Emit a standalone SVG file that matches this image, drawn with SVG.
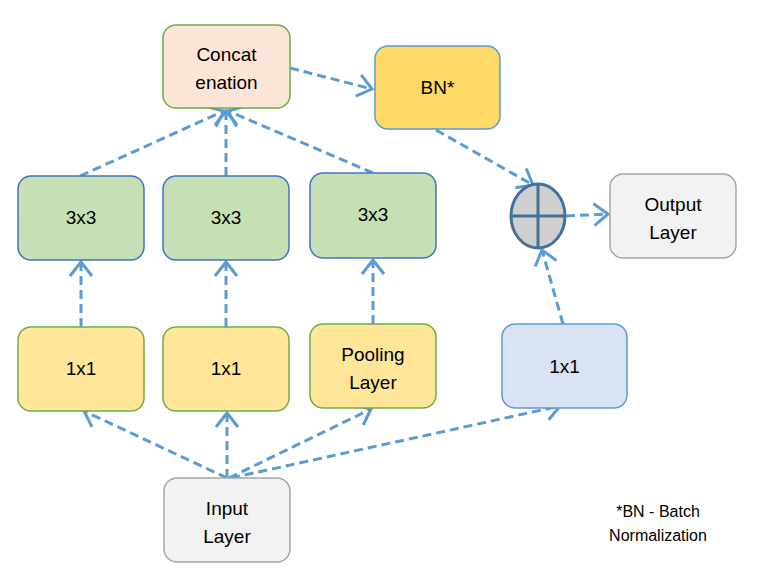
<svg xmlns="http://www.w3.org/2000/svg" width="763" height="586" viewBox="0 0 763 586">
<defs>
<style>
.t{font-family:"Liberation Sans","Open Sans",sans-serif;font-size:19px;fill:#000;text-anchor:middle}
.n{font-family:"Liberation Sans","Open Sans",sans-serif;font-size:16px;fill:#000;text-anchor:middle}
.c{fill:none;stroke:#5b9bd5;stroke-width:3;stroke-dasharray:9 5}
.box{stroke-width:1.5}
</style>
<marker id="ah" markerUnits="userSpaceOnUse" markerWidth="26" markerHeight="26" viewBox="0 0 26 26" refX="18" refY="13" orient="auto">
<path d="M4,2 L18,13 L4,24" fill="none" stroke="#5b9bd5" stroke-width="3"/>
</marker>
</defs>
<rect width="763" height="586" fill="#fff"/>
<g id="connectors">
<line class="c" x1="290" y1="68" x2="372" y2="89" marker-end="url(#ah)"/>
<line class="c" x1="436" y1="130" x2="533" y2="185" marker-end="url(#ah)"/>
<line class="c" x1="566" y1="216" x2="608" y2="214" marker-end="url(#ah)"/>
<line class="c" x1="563" y1="324" x2="542" y2="250" marker-end="url(#ah)"/>
<line class="c" x1="80" y1="176" x2="224" y2="111" marker-end="url(#ah)"/>
<line class="c" x1="226" y1="176" x2="226" y2="111" marker-end="url(#ah)"/>
<line class="c" x1="373" y1="173" x2="228" y2="111" marker-end="url(#ah)"/>
<line class="c" x1="81" y1="327" x2="81" y2="262" marker-end="url(#ah)"/>
<line class="c" x1="226" y1="327" x2="226" y2="262" marker-end="url(#ah)"/>
<line class="c" x1="373" y1="324" x2="373" y2="260" marker-end="url(#ah)"/>
<line class="c" x1="227" y1="478" x2="84" y2="411" marker-end="url(#ah)"/>
<line class="c" x1="227" y1="478" x2="227" y2="413" marker-end="url(#ah)"/>
<line class="c" x1="229" y1="478" x2="371" y2="409" marker-end="url(#ah)"/>
<line class="c" x1="231" y1="478" x2="560" y2="406" marker-end="url(#ah)"/>
</g>
<g id="concat">
<rect class="box" x="163" y="25" width="127" height="83" rx="13" fill="#fbe5d6" stroke="#70ad47"/>
<text class="t" x="226.5" y="61">Concat</text>
<text class="t" x="226.5" y="89">enation</text>
</g>
<g id="bn">
<rect class="box" x="375" y="46" width="125" height="83" rx="13" fill="#ffd966" stroke="#5b9bd5"/>
<text class="t" x="437.5" y="94">BN*</text>
</g>
<g id="conv3a">
<rect class="box" x="18" y="176" width="126" height="84" rx="13" fill="#c5e0b4" stroke="#4472c4"/>
<text class="t" x="81" y="224">3x3</text>
</g>
<g id="conv3b">
<rect class="box" x="163" y="176" width="126" height="84" rx="13" fill="#c5e0b4" stroke="#4472c4"/>
<text class="t" x="226" y="224">3x3</text>
</g>
<g id="conv3c">
<rect class="box" x="310" y="173" width="126" height="85" rx="13" fill="#c5e0b4" stroke="#4472c4"/>
<text class="t" x="373" y="221">3x3</text>
</g>
<g id="conv1a">
<rect class="box" x="18" y="327" width="126" height="84" rx="13" fill="#ffe699" stroke="#70ad47"/>
<text class="t" x="81" y="375">1x1</text>
</g>
<g id="conv1b">
<rect class="box" x="163" y="327" width="126" height="84" rx="13" fill="#ffe699" stroke="#70ad47"/>
<text class="t" x="226" y="375">1x1</text>
</g>
<g id="pool">
<rect class="box" x="310" y="324" width="126" height="84" rx="13" fill="#ffe699" stroke="#70ad47"/>
<text class="t" x="373" y="361">Pooling</text>
<text class="t" x="373" y="389">Layer</text>
</g>
<g id="conv1c">
<rect class="box" x="502" y="324" width="125" height="84" rx="13" fill="#dae3f3" stroke="#5b9bd5"/>
<text class="t" x="564.5" y="373">1x1</text>
</g>
<g id="input">
<rect class="box" x="164" y="478" width="126" height="84" rx="13" fill="#f2f2f2" stroke="#a6a6a6"/>
<text class="t" x="227" y="515">Input</text>
<text class="t" x="227" y="543">Layer</text>
</g>
<g id="output">
<rect class="box" x="610" y="174" width="126" height="84" rx="13" fill="#f2f2f2" stroke="#a6a6a6"/>
<text class="t" x="673" y="211">Output</text>
<text class="t" x="673" y="239">Layer</text>
</g>
<g id="add">
<ellipse cx="538" cy="216" rx="27" ry="32" fill="#d0cece" stroke="#41719c" stroke-width="3"/>
<line x1="538" y1="184" x2="538" y2="248" stroke="#41719c" stroke-width="3"/>
<line x1="511" y1="216" x2="565" y2="216" stroke="#41719c" stroke-width="3"/>
</g>
<g id="note">
<text class="n" x="658" y="517">*BN - Batch</text>
<text class="n" x="658" y="541">Normalization</text>
</g>
</svg>
